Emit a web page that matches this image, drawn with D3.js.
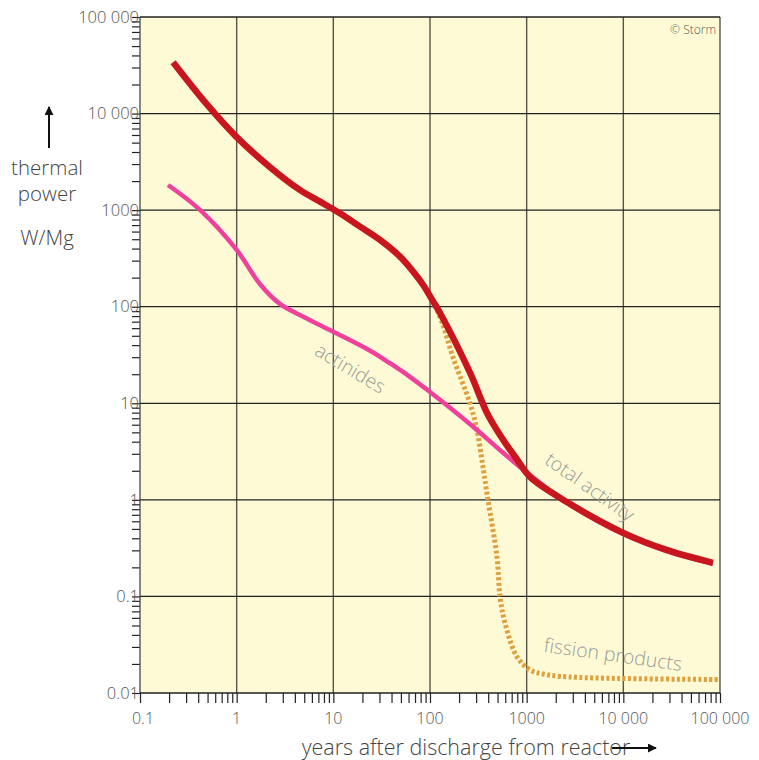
<!DOCTYPE html>
<html>
<head>
<meta charset="utf-8">
<script src="https://cdn.jsdelivr.net/npm/d3@7"></script>
<style>
  body { margin: 0; background: #fff; }
  svg text { font-family: "Open Sans", Lato, sans-serif; }
</style>
</head>
<body>
<div id="chart"></div>
<script>
// Thermal power of spent fuel vs. time after discharge (log-log)

const xTicks = [0.1, 1, 10, 100, 1000, 10000, 100000];
const xTickLabels = ['0.1', '1', '10', '100', '1000', '10 000', '100 000'];
const yTicks = [0.01, 0.1, 1, 10, 100, 1000, 10000, 100000];
const yTickLabels = ['0.01', '0.1', '1', '10', '100', '1000', '10 000', '100 000'];

// [years, W/Mg]
const totalActivity = [
    [0.22, 34000], [0.5, 12200], [1, 5700], [2.2, 2800], [4.5, 1620], [7.3, 1224],
    [11.7, 929], [18.9, 675], [30.4, 492], [49, 330], [67, 231], [85, 168],
    [108, 113], [127, 86], [260, 20.6], [390, 7.9], [570, 4.2], [800, 2.6],
    [1080, 1.73], [2610, 0.95], [10000, 0.455], [28000, 0.303], [84500, 0.223]
];
const actinides = [
    [0.195, 1820], [0.42, 1000], [1, 387], [1.74, 172], [2.8, 107], [5, 78],
    [10, 55], [24, 35], [38.5, 26], [62, 18.8], [100, 13.1], [161, 9],
    [306, 5.3], [570, 3.07], [1370, 1.5], [2610, 0.93], [10000, 0.44],
    [28000, 0.295], [84500, 0.218]
];
const fissionProducts = [
    [107, 117], [136, 65], [173, 30], [259, 10], [306, 5.3], [353, 2.2],
    [398, 1.0], [493, 0.257], [530, 0.1], [597, 0.053], [794, 0.0237],
    [1080, 0.0174], [1600, 0.0155], [3500, 0.0145], [100000, 0.0138]
];

const width = 759;
const height = 760;
const margin = {top: 17, right: 39, bottom: 67, left: 140};
const innerW = width - margin.left - margin.right;
const innerH = height - margin.top - margin.bottom;

const svg = d3.select('#chart')
    .append('svg')
    .attr('width', width)
    .attr('height', height);

svg.append('defs').append('marker')
    .attr('id', 'arrow')
    .attr('viewBox', '0 0 10 10')
    .attr('refX', 9)
    .attr('refY', 5)
    .attr('markerWidth', 9)
    .attr('markerHeight', 9)
    .attr('markerUnits', 'userSpaceOnUse')
    .attr('orient', 'auto')
    .append('path')
    .attr('d', 'M0,0 L10,5 L0,10 z')
    .attr('fill', '#111');

const g = svg.append('g')
    .attr('transform', `translate(${margin.left},${margin.top})`);

const x = d3.scaleLog().domain([0.1, 100000]).range([0, innerW]);
const y = d3.scaleLog().domain([0.01, 100000]).range([innerH, 0]);

// Plot background
g.append('rect')
    .attr('width', innerW)
    .attr('height', innerH)
    .attr('fill', '#fffad6');

// Minor ticks (2..9 in each decade)
const minorX = [];
const minorY = [];
for (let e = -2; e < 5; e++) {
    for (let m = 2; m <= 9; m++) {
        const v = m * Math.pow(10, e);
        if (v > 0.1 && v < 100000) minorX.push(v);
        if (v > 0.01 && v < 100000) minorY.push(v);
    }
}

g.append('g')
    .attr('transform', `translate(0,${innerH})`)
    .call(d3.axisBottom(x).tickValues(minorX.concat(xTicks)).tickSize(10).tickFormat(''))
    .call(a => a.select('.domain').remove())
    .call(a => a.selectAll('line').attr('stroke', '#222').attr('stroke-width', 1.2));

g.append('g')
    .call(d3.axisLeft(y).tickValues(minorY.concat(yTicks)).tickSize(8).tickFormat(''))
    .call(a => a.select('.domain').remove())
    .call(a => a.selectAll('line').attr('stroke', '#222').attr('stroke-width', 1.2));

// Grid lines
g.append('g')
    .selectAll('line')
    .data(xTicks)
    .enter()
    .append('line')
    .attr('x1', d => x(d))
    .attr('x2', d => x(d))
    .attr('y1', 0)
    .attr('y2', innerH)
    .attr('stroke', '#55534a')
    .attr('stroke-width', 1.4);

g.append('g')
    .selectAll('line')
    .data(yTicks)
    .enter()
    .append('line')
    .attr('x1', 0)
    .attr('x2', innerW)
    .attr('y1', d => y(d))
    .attr('y2', d => y(d))
    .attr('stroke', '#222')
    .attr('stroke-width', 1.3);

// Tick labels
g.append('g')
    .selectAll('text')
    .data(xTicks)
    .enter()
    .append('text')
    .attr('x', d => x(d) + (d === 0.1 ? 3 : 0))
    .attr('y', innerH + 31)
    .attr('text-anchor', 'middle')
    .attr('font-size', '16px')
    .attr('font-weight', 300)
    .attr('fill', '#555')
    .text((d, i) => xTickLabels[i]);

g.append('g')
    .selectAll('text')
    .data(yTicks)
    .enter()
    .append('text')
    .attr('x', -1)
    .attr('y', d => y(d))
    .attr('dy', '0.35em')
    .attr('text-anchor', 'end')
    .attr('font-size', '16.5px')
    .attr('font-weight', 300)
    .attr('fill', '#555')
    .text((d, i) => yTickLabels[i]);

// Curves
const line = d3.line()
    .x(d => x(d[0]))
    .y(d => y(d[1]))
    .curve(d3.curveCatmullRom.alpha(0.5));

g.append('path')
    .datum(fissionProducts)
    .attr('d', line)
    .attr('fill', 'none')
    .attr('stroke', '#dfa03e')
    .attr('stroke-width', 5)
    .attr('stroke-dasharray', '3,2.4');

g.append('path')
    .datum(actinides)
    .attr('d', line)
    .attr('fill', 'none')
    .attr('stroke', '#ef409c')
    .attr('stroke-width', 4.5);

g.append('path')
    .datum(totalActivity)
    .attr('d', line)
    .attr('fill', 'none')
    .attr('stroke', '#c8161e')
    .attr('stroke-width', 6.5);

// Curve labels
const curveLabels = [
    {text: 'actinides', v: [15, 23], angle: 31},
    {text: 'total activity', v: [4500, 1.36], angle: 35},
    {text: 'fission products', v: [7800, 0.025], angle: 8}
];

g.append('g')
    .selectAll('text')
    .data(curveLabels)
    .enter()
    .append('text')
    .attr('transform', d => `translate(${x(d.v[0])},${y(d.v[1])}) rotate(${d.angle})`)
    .attr('text-anchor', 'middle')
    .attr('dy', '0.35em')
    .attr('font-size', '19.5px')
    .attr('font-weight', 300)
    .attr('fill', '#9a9a9a')
    .text(d => d.text);

// Copyright
g.append('text')
    .attr('x', innerW - 4)
    .attr('y', 17)
    .attr('text-anchor', 'end')
    .attr('font-size', '12px')
    .attr('font-weight', 300)
    .attr('fill', '#555')
    .text('\u00a9 Storm');

// Y axis title with arrow
svg.append('line')
    .attr('x1', 49).attr('x2', 49)
    .attr('y1', 148).attr('y2', 107)
    .attr('stroke', '#111')
    .attr('stroke-width', 2)
    .attr('marker-end', 'url(#arrow)');

const yTitle = [['thermal', 175], ['power', 201], ['W/Mg', 245]];
svg.append('g')
    .selectAll('text')
    .data(yTitle)
    .enter()
    .append('text')
    .attr('x', 47)
    .attr('y', d => d[1])
    .attr('text-anchor', 'middle')
    .attr('font-size', '20.5px')
    .attr('font-weight', 300)
    .attr('fill', '#444')
    .text(d => d[0]);

// X axis title with arrow
svg.append('text')
    .attr('x', 466)
    .attr('y', 755)
    .attr('text-anchor', 'middle')
    .attr('font-size', '21.5px')
    .attr('font-weight', 300)
    .attr('fill', '#444')
    .text('years after discharge from reactor');

svg.append('line')
    .attr('x1', 612).attr('x2', 656)
    .attr('y1', 748).attr('y2', 748)
    .attr('stroke', '#111')
    .attr('stroke-width', 2)
    .attr('marker-end', 'url(#arrow)');
</script>
</body>
</html>
